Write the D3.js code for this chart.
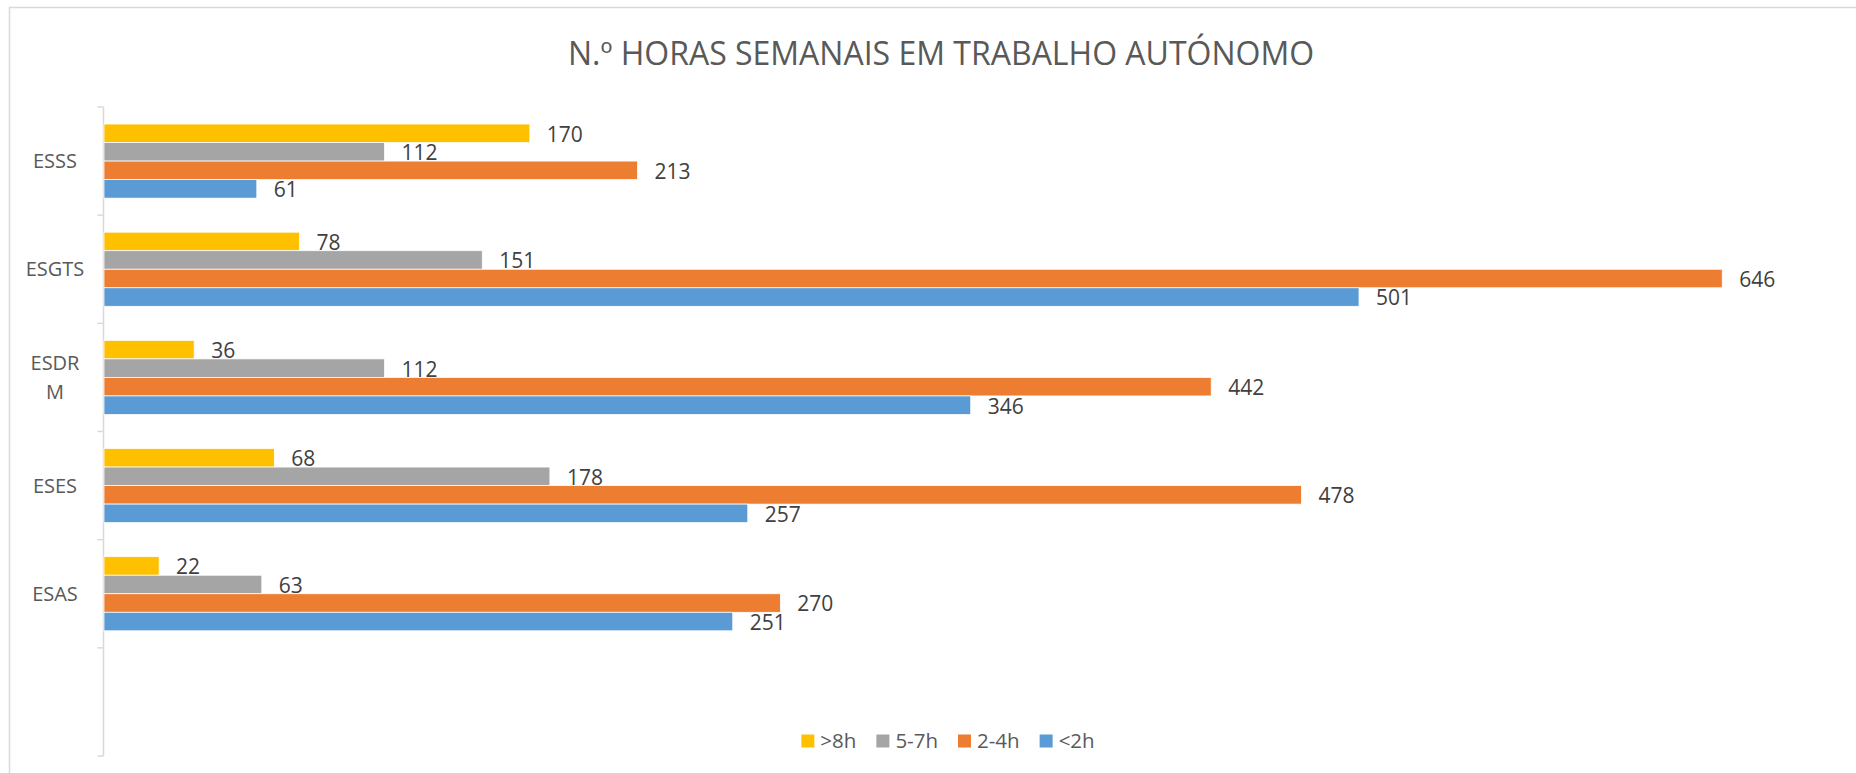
<!DOCTYPE html>
<html>
<head>
<meta charset="utf-8">
<script src="https://cdn.jsdelivr.net/npm/d3@7"></script>
<style>
  html, body { margin: 0; padding: 0; background: #fff; }
  svg { display: block; }
  text { font-family: "Open Sans", "Noto Sans", sans-serif; }
</style>
</head>
<body>
<svg id="chart" width="1856" height="773"></svg>
<script>
// ---- data ----
const title = "N.º HORAS SEMANAIS EM TRABALHO AUTÓNOMO";
const categories = ["ESSS", "ESGTS", "ESDRM", "ESES", "ESAS", ""];
const seriesNames = [">8h", "5-7h", "2-4h", "<2h"];
const seriesColors = ["#FFC000", "#A5A5A5", "#ED7D31", "#5B9BD5"];
const over8h  = [170, 78, 36, 68, 22];
const h5to7   = [112, 151, 112, 178, 63];
const h2to4   = [213, 646, 442, 478, 270];
const under2h = [61, 501, 346, 257, 251];
const seriesValues = [over8h, h5to7, h2to4, under2h];

(function () {
const W = 1856, H = 773;
const svg = d3.select("#chart");

// outer chart border
svg.append("rect")
  .attr("x", 9.5).attr("y", 7.5)
  .attr("width", W + 20).attr("height", H + 20)
  .attr("fill", "#fff").attr("stroke", "#D9D9D9").attr("stroke-width", 1.5);

// title
svg.append("text")
  .attr("x", 941).attr("y", 65)
  .attr("text-anchor", "middle")
  .attr("font-size", 32)
  .attr("fill", "#595959")
  .text(title);

// scales
const x = d3.scaleLinear().domain([0, 700]).range([104, 1857.5]);
const y0 = d3.scaleBand().domain(categories).range([107, 756])
  .paddingInner(0.315).paddingOuter(0.1575);
const y1 = d3.scaleBand().domain(seriesNames).range([0, y0.bandwidth()]);

// category axis (line + boundary ticks)
const axisX = 103.5;
const step = y0.step();
const y0Top = y0.range()[0];
const gAxis = svg.append("g");
gAxis.append("line")
  .attr("x1", axisX).attr("x2", axisX)
  .attr("y1", y0Top).attr("y2", y0Top + step * categories.length)
  .attr("stroke", "#D9D9D9").attr("stroke-width", 1.5);
gAxis.selectAll("line.tick")
  .data(d3.range(categories.length + 1))
  .join("line")
  .attr("class", "tick")
  .attr("x1", axisX - 6).attr("x2", axisX)
  .attr("y1", i => y0Top + i * step).attr("y2", i => y0Top + i * step)
  .attr("stroke", "#D9D9D9").attr("stroke-width", 1.5);

// category labels with wrapping
const maxLabelW = 64;
categories.forEach(cat => {
  if (!cat) return;
  const cy = y0(cat) + y0.bandwidth() / 2;
  const t = svg.append("text")
    .attr("x", 55).attr("text-anchor", "middle")
    .attr("font-size", 20).attr("fill", "#595959");
  const lines = [];
  let cur = "";
  const probe = t.append("tspan");
  for (const ch of cat) {
    probe.text(cur + ch);
    if (probe.node().getComputedTextLength() > maxLabelW && cur) {
      lines.push(cur); cur = ch;
    } else cur += ch;
  }
  lines.push(cur);
  probe.remove();
  const lh = 29;
  lines.forEach((ln, i) => {
    t.append("tspan")
      .attr("x", 55)
      .attr("y", cy + (i - (lines.length - 1) / 2) * lh)
      .attr("dy", "0.35em")
      .text(ln);
  });
});

// bars
const rows = [];
categories.forEach((cat, ci) => {
  seriesNames.forEach((s, si) => {
    const v = seriesValues[si][ci];
    if (v != null) rows.push({cat, s, si, v});
  });
});

svg.append("g").selectAll("rect")
  .data(rows).join("rect")
  .attr("x", x(0))
  .attr("y", d => y0(d.cat) + y1(d.s))
  .attr("width", d => x(d.v) - x(0))
  .attr("height", y1.bandwidth())
  .attr("fill", d => seriesColors[d.si])
  .attr("stroke", "#fff").attr("stroke-width", 0.75);

// data labels
svg.append("g").selectAll("text")
  .data(rows).join("text")
  .attr("x", d => x(d.v) + 17)
  .attr("y", d => y0(d.cat) + y1(d.s) + y1.bandwidth() / 2 + 1)
  .attr("dy", "0.35em")
  .attr("font-size", 21)
  .attr("fill", "#404040")
  .text(d => d.v);

// legend
const legend = svg.append("g");
const items = legend.selectAll("g").data(seriesNames).join("g");
items.append("rect")
  .attr("width", 13).attr("height", 13)
  .attr("y", -6.5)
  .attr("fill", (d, i) => seriesColors[i]);
items.append("text")
  .attr("x", 19).attr("dy", "0.35em")
  .attr("font-size", 20.5).attr("fill", "#595959")
  .text(d => d);
const widths = [];
items.each(function() {
  widths.push(19 + d3.select(this).select("text").node().getComputedTextLength());
});
const gap = 20;
const total = d3.sum(widths) + gap * (widths.length - 1);
let lx = 948 - total / 2;
items.attr("transform", (d, i) => {
  const tx = lx; lx += widths[i] + gap;
  return `translate(${tx},741)`;
});
})();
</script>
</body>
</html>
